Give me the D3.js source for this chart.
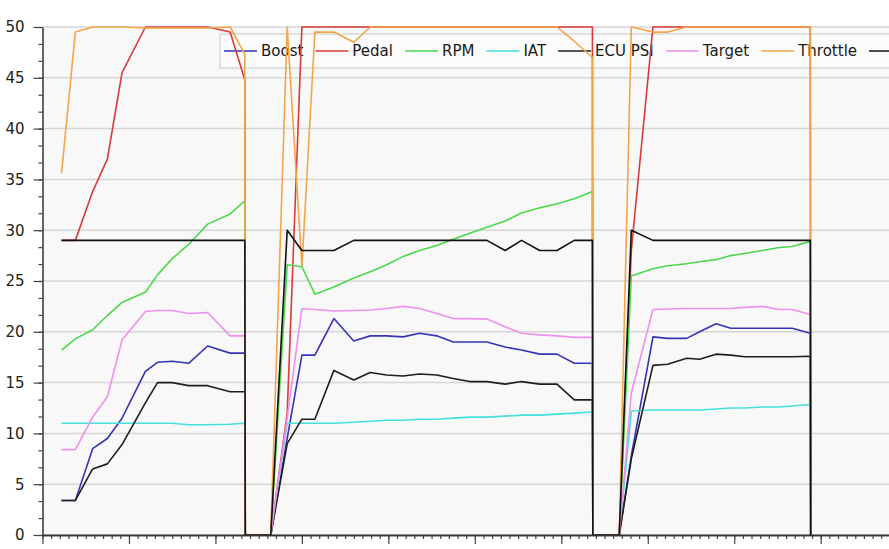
<!DOCTYPE html>
<html>
<head>
<meta charset="utf-8">
<script src="https://cdnjs.cloudflare.com/ajax/libs/d3/7.8.5/d3.min.js"></script>
<style>
    body { margin: 0; background: #ffffff; }
    svg { display: block; font-family: "DejaVu Sans", sans-serif; }
</style>
</head>
<body>
<div id="chart"></div>
<script>
            // Logged samples: time axis (minor tick = 1 unit) and one array per channel
            var time = [2.2, 3.8, 5.8, 7.5, 9.2, 11.9, 13.3, 15.0, 16.9, 19.1, 21.7, 23.4,
                        23.45,
                        26.4, 28.3, 30.0, 31.5, 33.7, 36.0, 37.9, 39.8, 41.7, 43.6, 45.6, 47.5, 49.4, 51.4, 53.5, 55.4, 57.5, 59.5, 61.5, 63.6,
                        63.65,
                        66.7, 68.1, 70.6, 72.3, 74.5, 76.0, 77.9, 79.6, 81.2, 83.3, 85.2, 86.7, 88.8,
                        88.85];

            var boost = [3.4, 3.4, 8.5, 9.5, 11.5, 16.1, 17.0, 17.1, 16.9, 18.6, 17.9, 17.9,
                         0,
                         0, 9.5, 17.7, 17.7, 21.3, 19.1, 19.6, 19.6, 19.5, 19.85, 19.6, 19.0, 19.0, 19.0, 18.5, 18.2, 17.8, 17.8, 16.9, 16.9,
                         0,
                         0, 7.8, 19.5, 19.35, 19.35, 20.0, 20.8, 20.35, 20.35, 20.35, 20.35, 20.35, 19.85,
                         0];

            var pedal = [29, 29, 33.8, 37.0, 45.5, 50, 50, 50, 50, 50, 49.5, 44.8,
                         0,
                         0, 12, 50, 50, 50, 50, 50, 50, 50, 50, 50, 50, 50, 50, 50, 50, 50, 50, 50, 50,
                         0,
                         0, 28, 50, 50, 50, 50, 50, 50, 50, 50, 50, 50, 50,
                         0];

            var rpm = [18.2, 19.3, 20.2, 21.6, 22.9, 23.9, 25.6, 27.2, 28.6, 30.6, 31.6, 32.9,
                       0,
                       0, 26.6, 26.4, 23.7, 24.4, 25.3, 25.9, 26.6, 27.4, 28.0, 28.5, 29.1, 29.7, 30.3, 30.9, 31.7, 32.2, 32.6, 33.1, 33.8,
                       0,
                       0, 25.5, 26.2, 26.5, 26.7, 26.9, 27.1, 27.5, 27.7, 28.0, 28.3, 28.4, 28.9,
                       0];

            var iat = [11.0, 11.0, 11.0, 11.0, 11.0, 11.0, 11.0, 11.0, 10.85, 10.85, 10.9, 11.0,
                       0,
                       0, 11.0, 11.0, 11.0, 11.0, 11.1, 11.2, 11.3, 11.3, 11.4, 11.4, 11.5, 11.6, 11.6, 11.7, 11.8, 11.8, 11.9, 12.0, 12.1,
                       0,
                       0, 12.2, 12.3, 12.3, 12.3, 12.3, 12.4, 12.5, 12.5, 12.6, 12.6, 12.7, 12.85,
                       0];

            var ecuPsi = [3.4, 3.4, 6.5, 7.0, 8.9, 13.0, 15.0, 15.0, 14.7, 14.7, 14.1, 14.1,
                          0,
                          0, 9.0, 11.4, 11.4, 16.2, 15.25, 16.0, 15.75, 15.65, 15.85, 15.75, 15.4, 15.1, 15.1, 14.85, 15.1, 14.85, 14.85, 13.3, 13.3,
                          0,
                          0, 7.5, 16.7, 16.8, 17.4, 17.3, 17.8, 17.7, 17.55, 17.55, 17.55, 17.55, 17.6,
                          0];

            var target = [8.4, 8.4, 11.6, 13.6, 19.2, 22.0, 22.1, 22.1, 21.8, 21.9, 19.6, 19.6,
                          0,
                          0, 11.5, 22.3, 22.2, 22.05, 22.1, 22.15, 22.3, 22.5, 22.3, 21.8, 21.3, 21.3, 21.25, 20.5, 19.85, 19.7, 19.6, 19.45, 19.45,
                          0,
                          0, 14.0, 22.2, 22.25, 22.3, 22.3, 22.3, 22.3, 22.4, 22.5, 22.2, 22.2, 21.7,
                          0];

            var throttle = [35.6, 49.5, 50, 50, 50, 49.9, 49.9, 49.9, 49.9, 49.9, 50, 47.3,
                            0,
                            0, 50, 26.4, 49.5, 49.5, 48.5, 50, 50, 50, 50, 50, 50, 50, 50, 50, 50, 50, 50, 48.6, 47.0,
                            0,
                            0, 50, 49.5, 49.5, 50, 50, 50, 50, 50, 50, 50, 50, 50,
                            0];

            var limit = [29, 29, 29, 29, 29, 29, 29, 29, 29, 29, 29, 29,
                         0,
                         0, 30, 28, 28, 28, 29, 29, 29, 29, 29, 29, 29, 29, 29, 28, 29, 28, 28, 29, 29,
                         0,
                         0, 30, 29, 29, 29, 29, 29, 29, 29, 29, 29, 29, 29,
                         0];

            var seriesNames = ["Boost", "Pedal", "RPM", "IAT", "ECU PSI", "Target", "Throttle", ""];
            var seriesValues = [boost, pedal, rpm, iat, ecuPsi, target, throttle, limit];
            var seriesColors = ["#3434b4", "#d83a3a", "#4cd84c", "#44e0e0", "#1e1e1e", "#ee90ee", "#f3a548", "#111111"];

            var yTickValues = [0, 5, 10, 15, 20, 25, 30, 35, 40, 45, 50];

            // Set up SVG dimensions
            var w = 889;
            var h = 549;

            var xScale = d3.scaleLinear()
                            .domain([0, 97.9])
                            .range([42.5, w]);

            var yScale = d3.scaleLinear()
                            .domain([0, 50])
                            .range([535, 27]);

            var svg = d3.select("#chart")
                        .append("svg")
                        .attr("width", w)
                        .attr("height", h);

            // plot background
            svg.append("rect")
                .attr("x", xScale(0))
                .attr("y", yScale(50))
                .attr("width", w - xScale(0))
                .attr("height", yScale(0) - yScale(50))
                .attr("fill", "#f8f8f8");

            // horizontal grid lines
            svg.selectAll("line.grid")
                .data(yTickValues)
                .enter()
                .append("line")
                .attr("class", "grid")
                .attr("x1", xScale(0))
                .attr("x2", w)
                .attr("y1", function(d) { return yScale(d); })
                .attr("y2", function(d) { return yScale(d); })
                .attr("stroke", "#d6d6d6")
                .attr("stroke-width", 1.5);

            // legend (drawn under the lines, as in the original)
            var legend = svg.append("g");
            legend.append("rect")
                .attr("x", 220)
                .attr("y", 34)
                .attr("width", 700)
                .attr("height", 34)
                .attr("fill", "#fbfbfb")
                .attr("stroke", "#c8c8c8");

            var lx = 224;
            seriesNames.forEach(function(name, i) {
                legend.append("line")
                    .attr("x1", lx)
                    .attr("x2", lx + 33)
                    .attr("y1", 51)
                    .attr("y2", 51)
                    .attr("stroke", seriesColors[i])
                    .attr("stroke-width", 1.6);
                var t = legend.append("text")
                    .attr("x", lx + 37)
                    .attr("y", 51)
                    .attr("dy", "0.36em")
                    .attr("font-size", "15px")
                    .attr("fill", "#1a1a1a")
                    .text(name);
                lx += 37 + t.node().getComputedTextLength() + 12;
            });

            // the lines
            var line = d3.line()
                .x(function(d, i) { return xScale(time[i]); })
                .y(function(d) { return yScale(d); });

            svg.selectAll("path.series")
                .data(seriesValues)
                .enter()
                .append("path")
                .attr("class", "series")
                .attr("d", line)
                .attr("fill", "none")
                .attr("stroke", function(d, i) { return seriesColors[i]; })
                .attr("stroke-width", 1.6)
                .attr("stroke-linejoin", "round");

            // y axis: major ticks with labels, minor ticks without
            svg.append("g")
                .attr("transform", "translate(" + xScale(0) + ",0)")
                .call(d3.axisLeft(yScale).tickValues(d3.range(0, 50.01, 5 / 3)).tickSize(4).tickSizeOuter(0).tickFormat(""))
                .call(function(g) { g.select(".domain").remove(); });

            var yAxis = svg.append("g")
                .attr("transform", "translate(" + xScale(0) + ",0)")
                .call(d3.axisLeft(yScale).tickValues(yTickValues).tickSize(9).tickPadding(9).tickSizeOuter(0));
            yAxis.selectAll("text")
                .attr("font-size", "15px")
                .attr("font-family", "DejaVu Sans, sans-serif")
                .attr("fill", "#222");

            // x axis: ticks only, labels fall below the window
            svg.append("g")
                .attr("transform", "translate(0," + yScale(0) + ")")
                .call(d3.axisBottom(xScale).tickValues(d3.range(0, 98, 1)).tickSize(4).tickSizeOuter(0).tickFormat(""));

            svg.append("g")
                .attr("transform", "translate(0," + yScale(0) + ")")
                .call(d3.axisBottom(xScale).tickValues(d3.range(0, 98, 10)).tickSize(9).tickSizeOuter(0).tickFormat(""));

            svg.selectAll(".tick line").attr("stroke", "#444").attr("stroke-width", 1.2);
            svg.selectAll(".domain").attr("stroke", "#333").attr("stroke-width", 1.5);
</script>
</body>
</html>
